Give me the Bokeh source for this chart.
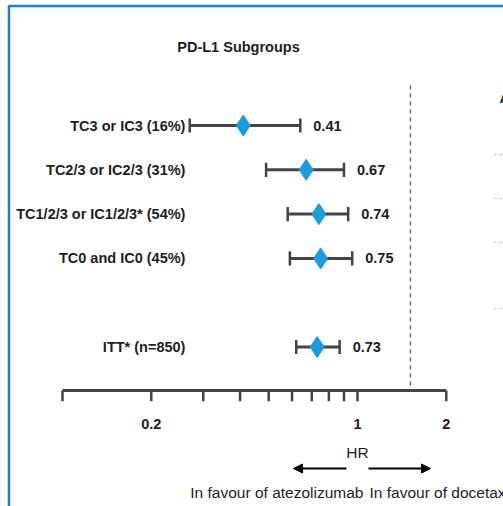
from bokeh.plotting import figure
from bokeh.models import Range1d, ColumnDataSource, Arrow, NormalHead
from bokeh.core.properties import value
from bokeh.embed import file_html
from bokeh.resources import INLINE

# ---- data ----
labels = ["TC3 or IC3 (16%)", "TC2/3 or IC2/3 (31%)", "TC1/2/3 or IC1/2/3* (54%)",
          "TC0 and IC0 (45%)", "ITT* (n=850)"]
hr = [0.41, 0.67, 0.74, 0.75, 0.73]
ci_low = [0.27, 0.49, 0.58, 0.59, 0.62]
ci_high = [0.64, 0.90, 0.93, 0.96, 0.87]
rows = [0, 1, 2, 3, 5]
hr_text = ["0.41", "0.67", "0.74", "0.75", "0.73"]

tick_values = [0.1, 0.2, 0.3, 0.4, 0.5, 0.6, 0.7, 0.8, 0.9, 1, 2]
tick_label_values = [0.2, 1, 2]
tick_label_text = ["0.2", "1", "2"]

title_text = "PD-L1 Subgroups"
axis_title = "HR"
left_note = "In favour of atezolizumab"
right_note = "In favour of docetaxel"

# ---- layout (data units) ----
X0, X1 = 0.06164, 3.1261
Y_BOTTOM, Y_TOP = 8.600, -2.822
FONT = "Liberation Sans"
TXT = "#1e1e1e"
AX = "#444444"
BLUE = "#1b9be0"
CAP = 0.16
FS = "14.5px"
FS_REG = "15.5px"

p = figure(width=503, height=506, x_axis_type="log",
           x_range=Range1d(X0, X1), y_range=Range1d(Y_BOTTOM, Y_TOP),
           output_backend="svg", toolbar_location=None,
           min_border=0, outline_line_color=None)
p.axis.visible = False
p.grid.visible = False
p.background_fill_color = "white"
p.border_fill_color = "white"

src = ColumnDataSource(dict(label=labels, hr=hr, lo=ci_low, hi=ci_high, row=rows,
                            txt=hr_text,
                            cap0=[r - CAP for r in rows], cap1=[r + CAP for r in rows]))

# slide border (blue)
p.line([0.06586, 0.06586, X1 * 1.2], [Y_BOTTOM + 1, -2.698, -2.698],
       line_color="#1f7fd6", line_width=2.5)

# confidence intervals
p.segment(x0="lo", x1="hi", y0="row", y1="row", source=src, line_color=AX, line_width=3)
p.segment(x0="lo", x1="lo", y0="cap0", y1="cap1", source=src, line_color=AX, line_width=2.5)
p.segment(x0="hi", x1="hi", y0="cap0", y1="cap1", source=src, line_color=AX, line_width=2.5)
p.scatter(x="hr", y="row", source=src, marker="diamond", size=21,
          fill_color=BLUE, line_color=BLUE)

# row labels
p.text(x=0.2611, y="row", text="label", source=src, text_align="right",
       text_baseline="middle", text_font=value(FONT), text_font_style="bold",
       text_font_size=FS, text_color=TXT)
# HR values
p.text(x="hi", y="row", text="txt", source=src, text_align="left",
       text_baseline="middle", x_offset=13, text_font=value(FONT),
       text_font_style="bold", text_font_size=FS, text_color=TXT)

# title
p.text(x=[0.3951], y=[-1.783], text=[title_text], text_align="center",
       text_baseline="middle", text_font=value(FONT), text_font_style="bold",
       text_font_size=FS, text_color=TXT)

# dashed separator
p.segment(x0=[1.5122], x1=[1.5122], y0=[-0.903], y1=[5.869],
          line_color="#555555", line_width=1.3, line_dash="4 4")

# right-edge fragments of next panel
gy = [0.655, 1.648, 2.641, 4.131]
p.segment(x0=[2.9135] * 4, x1=[3.2] * 4, y0=gy, y1=gy,
          line_color="#bbbbbb", line_width=1.2, line_dash="2 3")
p.text(x=[3.029], y=[-0.632], text=["A"], text_align="left", text_baseline="middle",
       text_font=value(FONT), text_font_style="bold", text_font_size=FS,
       text_color=TXT)

# x axis (log)
AXY = 5.982
p.segment(x0=[min(tick_values)], x1=[max(tick_values)], y0=[AXY], y1=[AXY],
          line_color=AX, line_width=3)
p.segment(x0=tick_values, x1=tick_values, y0=[AXY] * len(tick_values),
          y1=[AXY + 0.24] * len(tick_values), line_color=AX, line_width=2.5)
p.text(x=tick_label_values, y=[6.727] * 3, text=tick_label_text, text_align="center",
       text_baseline="middle", text_font=value(FONT), text_font_style="bold",
       text_font_size=FS, text_color=TXT)
p.text(x=[1], y=[7.381], text=[axis_title], text_align="center",
       text_baseline="middle", text_font=value(FONT), text_font_size=FS_REG,
       text_color=TXT)

# direction arrows
p.add_layout(Arrow(x_start=0.9178, y_start=7.743, x_end=0.6069, y_end=7.743,
                   line_color="black", line_width=2,
                   end=NormalHead(size=9, fill_color="black", line_color="black")))
p.add_layout(Arrow(x_start=1.0896, y_start=7.743, x_end=1.7679, y_end=7.743,
                   line_color="black", line_width=2,
                   end=NormalHead(size=9, fill_color="black", line_color="black")))
p.text(x=[1.0479], y=[8.284], text=[left_note], text_align="right",
       text_baseline="middle", text_font=value(FONT), text_font_size=FS_REG,
       text_color=TXT)
p.text(x=[1.0982], y=[8.284], text=[right_note], text_align="left",
       text_baseline="middle", text_font=value(FONT), text_font_size=FS_REG,
       text_color=TXT)

open("out.html", "w").write(file_html(p, INLINE))
